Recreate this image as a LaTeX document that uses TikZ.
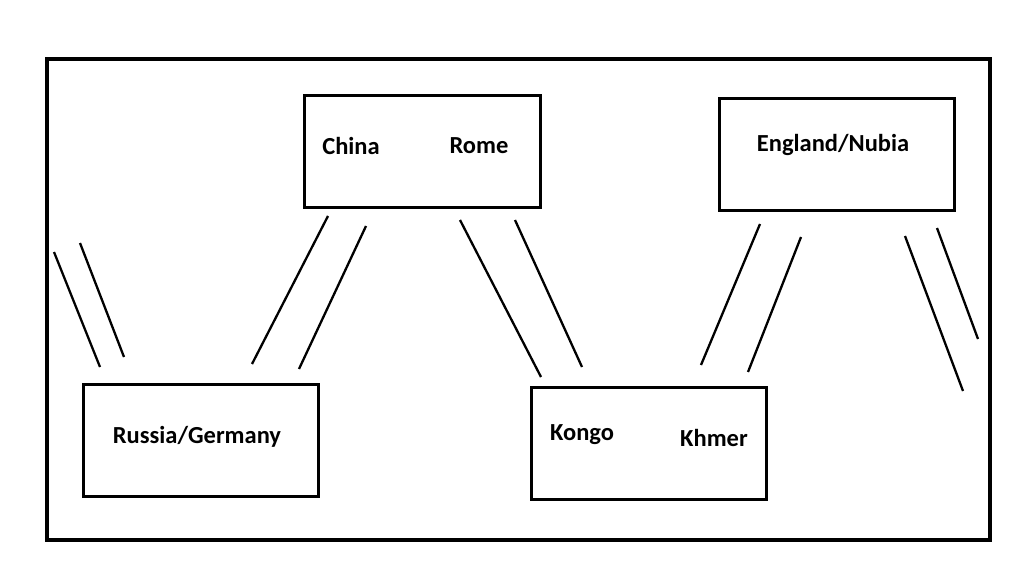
\documentclass[tikz,border=0pt]{standalone}
\usepackage{fontspec}
\setmainfont{Carlito}
\begin{document}
\begin{tikzpicture}[x=1pt,y=-1pt,
  frame/.style={draw=black,line width=4pt},
  box/.style={draw=black,line width=3pt},
  lbl/.style={font=\fontsize{24.5}{28}\selectfont\bfseries,inner sep=0pt},
  link/.style={draw=black,line width=2.3pt}]
\useasboundingbox[fill=white] (0,0) rectangle (1031,588);
\draw[frame] (47,59) rectangle (990,540);
% boxes
\draw[box] (304,96) rectangle (540,208);
\draw[box] (719,99) rectangle (954,211);
\draw[box] (83,384) rectangle (318,496);
\draw[box] (531,387) rectangle (766,499);
% labels
\node[lbl] (china) at (351,146) {China};
\node[lbl] (rome) at (479,146) {Rome};
\node[lbl] (engl) at (833,145) {England/Nubia};
\node[lbl] (rus) at (197,437) {Russia/Germany};
\node[lbl] (kongo) at (582,435) {Kongo};
\node[lbl] (khmer) at (714,438) {Khmer};
% free-standing pairs of strokes
\coordinate (a1) at (54,252);  \coordinate (a2) at (100,367);
\coordinate (b1) at (80,243);  \coordinate (b2) at (124,357);
\coordinate (c1) at (328,216); \coordinate (c2) at (252,364);
\coordinate (d1) at (366,226); \coordinate (d2) at (299,369);
\coordinate (e1) at (460,220); \coordinate (e2) at (541,377);
\coordinate (f1) at (515,220); \coordinate (f2) at (582,367);
\coordinate (g1) at (760,224); \coordinate (g2) at (701,365);
\coordinate (h1) at (801,237); \coordinate (h2) at (748,372);
\coordinate (i1) at (905,236); \coordinate (i2) at (963,391);
\coordinate (j1) at (937,228); \coordinate (j2) at (978,339);
\foreach \p in {a,b,c,d,e,f,g,h,i,j}{\draw[link] (\p1) -- (\p2);}
\end{tikzpicture}
\end{document}
